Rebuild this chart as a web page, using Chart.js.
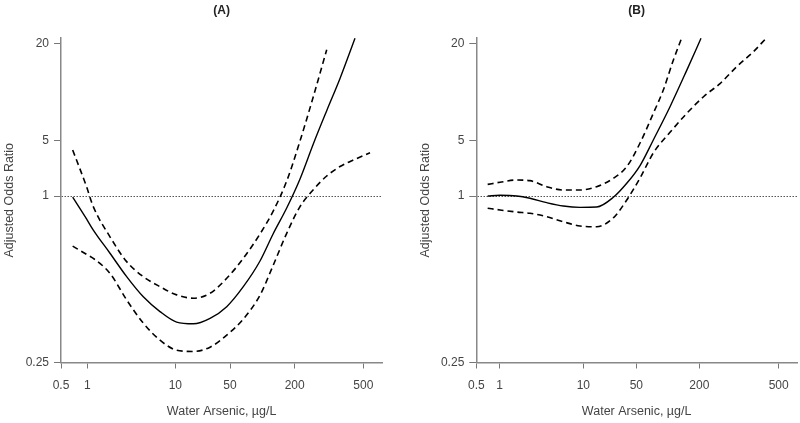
<!DOCTYPE html>
<html>
<head>
<meta charset="utf-8">
<script src="https://cdn.jsdelivr.net/npm/chart.js@4.4.1/dist/chart.umd.min.js"></script>
<style>
  body { margin: 0; background: #fff; }
  .row { display: flex; width: 800px; height: 423px; }
  canvas { display: block; }
</style>
</head>
<body>
<div class="row">
  <canvas id="panelA" width="400" height="423"></canvas>
  <canvas id="panelB" width="400" height="423"></canvas>
</div>
<script>
// tick values of both axes
const arsenicTicks = [0.5, 1, 10, 50, 200, 500];
const oddsTicks = [0.25, 1, 5, 20];
const refOdds = 1;

// panel (A): water arsenic (ug/L) and adjusted odds ratio with 95% CI
const aArsenic = [0.68, 0.98, 1.17, 1.81, 2.80, 4.33, 6.70, 10.4, 17.0, 27.8, 45.4,
                  66.5, 95.1, 126.5, 168.5, 214.7, 256.4, 306.7, 366.3, 447.6, 547];
const aEstimate = [0.99, 0.826, 0.753, 0.621, 0.511, 0.432, 0.382, 0.350, 0.345, 0.361, 0.398,
                   0.470, 0.582, 0.732, 0.905, 1.64, 4.52, 7.66, 12.15, 21.6];
const aUpper = [3.80, 1.31, 0.915, 0.712, 0.579, 0.511, 0.470, 0.439, 0.427, 0.445, 0.504,
                0.595, 0.729, 0.883, 1.545, 4.93, 9.36, 18.35];
const aLower = [0.659, 0.615, 0.595, 0.525, 0.421, 0.347, 0.301, 0.277, 0.274, 0.284, 0.314,
                0.359, 0.438, 0.563, 0.733, 0.915, 1.20, 1.786, 2.35, 2.90, 3.51];

// panel (B)
const bArsenicEst = [0.70, 1.01, 1.60, 2.30, 3.65, 5.76, 9.13, 15.0, 24.9, 37.4, 54.3, 72.7, 105, 152, 204];
const bEstimate = [1.00, 1.02, 1.00, 0.981, 0.946, 0.920, 0.910, 0.912, 0.989, 1.445, 2.42, 5.04, 8.11, 13.7, 21.6];
const bArsenicUpper = [0.70, 1.01, 1.60, 2.30, 3.65, 5.76, 9.13, 15.0, 24.9, 37.4, 54.3, 72.7, 90.6, 112.9, 135.8];
const bUpper = [1.40, 1.49, 1.59, 1.56, 1.31, 1.19, 1.19, 1.31, 1.67, 2.34, 4.65, 7.38, 10.3, 15.8, 21.7];
const bArsenicLower = [0.70, 1.01, 1.60, 2.30, 3.65, 5.76, 9.13, 15.0, 24.9, 37.4, 54.3, 72.7, 105, 152,
                       210, 254, 308, 373, 432];
const bLower = [0.903, 0.890, 0.875, 0.866, 0.842, 0.807, 0.779, 0.774, 0.834, 0.967, 1.685, 3.48, 5.62, 7.38,
                9.36, 11.3, 14.4, 17.8, 21.6];

// axis layout: the printed axes are unevenly spaced, tick offsets in px
const oddsPos = [0, 166.5, 222, 318.8];
const oddsMax = 324.5;
const arsenicPosA = [0, 26.3, 114.3, 169, 233.7, 302.3];
const arsenicMaxA = 321.3;
const arsenicPosB = [0, 23.4, 107, 160, 223, 302.4];
const arsenicMaxB = 320.7;

const FONT = '"Liberation Sans", Arial, sans-serif';
Chart.defaults.font.family = FONT;

// log-interpolate between the printed ticks
function warp(v, ticks, pos) {
  const lv = Math.log10(v);
  const lt = ticks.map(t => Math.log10(t));
  let i = 0;
  while (i < lt.length - 2 && lv > lt[i + 1]) i++;
  return pos[i] + (lv - lt[i]) / (lt[i + 1] - lt[i]) * (pos[i + 1] - pos[i]);
}

function series(xs, ys, xPos, dashed) {
  return {
    data: ys.map((y, i) => ({ x: warp(xs[i], arsenicTicks, xPos), y: warp(y, oddsTicks, oddsPos) })),
    borderColor: '#000',
    borderWidth: dashed ? 1.6 : 1.4,
    borderDash: dashed ? [6, 4] : [],
    pointRadius: 0,
    fill: false,
    cubicInterpolationMode: 'monotone'
  };
}

function makeChart(id, opts) {
  const refPos = warp(refOdds, oddsTicks, oddsPos);
  new Chart(document.getElementById(id), {
    type: 'line',
    data: { datasets: opts.datasets },
    options: {
      responsive: false,
      animation: false,
      devicePixelRatio: 1,
      layout: { padding: { left: 0, right: opts.padRight, top: 0, bottom: 0 } },
      plugins: {
        legend: { display: false },
        tooltip: { enabled: false },
        title: {
          display: true,
          text: opts.title,
          fullSize: false,
          color: '#222',
          font: { size: 12, weight: 'bold' },
          padding: { top: 3, bottom: 20.6 }
        }
      },
      scales: {
        x: {
          type: 'linear',
          min: 0,
          max: opts.xMax,
          afterBuildTicks: s => { s.ticks = opts.xPos.map(v => ({ value: v })); },
          afterFit: s => { s.height = 60.5; },
          ticks: {
            autoSkip: false,
            maxRotation: 0,
            padding: 9.8,
            color: '#444',
            font: { size: 12 },
            callback: v => arsenicTicks[opts.xPos.indexOf(v)]
          },
          grid: { drawOnChartArea: false, tickLength: 6, tickColor: '#777', tickWidth: 1 },
          border: { color: '#888', width: 1.5 },
          title: {
            display: true,
            text: 'Water Arsenic, µg/L',
            color: '#444',
            font: { size: 12.5 },
            padding: { top: 0, bottom: 4 }
          }
        },
        y: {
          type: 'linear',
          min: 0,
          max: oddsMax,
          afterBuildTicks: s => { s.ticks = oddsPos.map(v => ({ value: v })); },
          afterFit: s => { s.width = opts.yWidth; },
          ticks: {
            padding: 5,
            color: '#444',
            font: { size: 12 },
            callback: v => oddsTicks[oddsPos.indexOf(v)]
          },
          grid: {
            color: c => (c.tick && c.tick.value === refPos ? '#555' : 'transparent'),
            lineWidth: 1,
            tickLength: 7,
            tickColor: '#777',
            tickWidth: 1
          },
          border: { color: '#888', width: 1.5, dash: [1.5, 1.5] },
          title: {
            display: true,
            text: 'Adjusted Odds Ratio',
            color: '#444',
            font: { size: 12.5 },
            padding: { top: opts.yTitlePad, bottom: 0 }
          }
        }
      }
    }
  });
}

makeChart('panelA', {
  title: '(A)',
  xPos: arsenicPosA,
  xMax: arsenicMaxA,
  padRight: 17.7,
  yWidth: 61,
  yTitlePad: 2,
  datasets: [
    series(aArsenic, aEstimate, arsenicPosA, false),
    series(aArsenic, aUpper, arsenicPosA, true),
    series(aArsenic, aLower, arsenicPosA, true)
  ]
});

makeChart('panelB', {
  title: '(B)',
  xPos: arsenicPosB,
  xMax: arsenicMaxB,
  padRight: 3,
  yWidth: 76.3,
  yTitlePad: 17.8,
  datasets: [
    series(bArsenicEst, bEstimate, arsenicPosB, false),
    series(bArsenicUpper, bUpper, arsenicPosB, true),
    series(bArsenicLower, bLower, arsenicPosB, true)
  ]
});
</script>
</body>
</html>
